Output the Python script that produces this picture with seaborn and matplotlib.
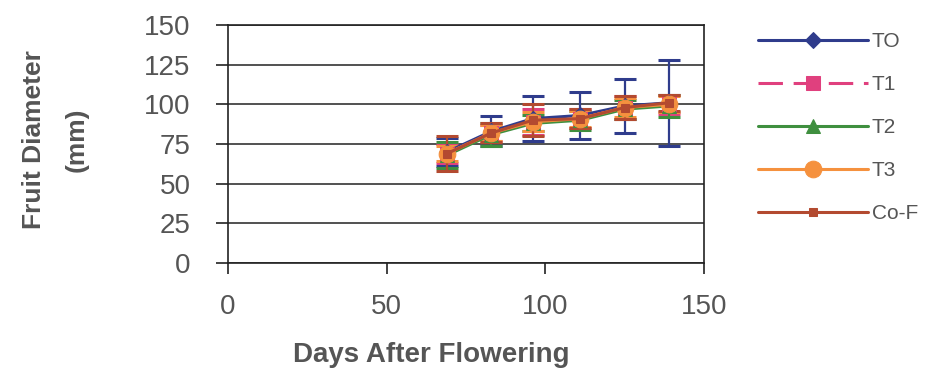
import matplotlib
matplotlib.use("Agg")
import matplotlib.pyplot as plt
import seaborn as sns
import numpy as np

# Fruit diameter (mm) by days after flowering, per treatment
days = [69, 83, 96, 111, 125, 139]

series_names = ["TO", "T1", "T2", "T3", "Co-F"]
t0_mean = [70, 83, 91, 93, 99, 101]
t0_err = [9, 9.5, 14, 15, 17, 27]
t1_mean = [69, 82, 89, 91, 98, 100]
t1_err = [6, 5, 8, 6, 7, 6]
t2_mean = [68, 81, 88, 90, 97, 99]
t2_err = [8, 7, 5, 6, 6, 7]
t3_mean = [69, 82, 89, 91, 98, 100]
t3_err = [5, 5, 6, 5, 6, 5]
cof_mean = [69, 82, 90, 91, 98, 101]
cof_err = [11, 6, 10, 6, 7, 5]

x_ticks = [0, 50, 100, 150]
y_ticks = [0, 25, 50, 75, 100, 125, 150]

means = [t0_mean, t1_mean, t2_mean, t3_mean, cof_mean]
errs = [t0_err, t1_err, t2_err, t3_err, cof_err]
colors = ["#2f3c8c", "#e0407e", "#3f8f3f", "#f5913e", "#b34a30"]
markers = ["D", "s", "^", "o", "s"]
msizes = [8, 10, 10, 12, 6]
styles = ["-", (0, (8, 3.5)), "-", "-", "-"]

sns.set_theme(style="white")
plt.rcParams["font.family"] = ["Liberation Sans", "DejaVu Sans"]

text_color = "#555555"

fig = plt.figure(figsize=(9.4, 3.71), dpi=100)
ax = fig.add_axes([0.2426, 0.291, 0.5064, 0.6416])

for name, m, e, c, mk, ms, ls in zip(series_names, means, errs, colors,
                                      markers, msizes, styles):
    ax.errorbar(days, m, yerr=e, fmt="none", ecolor=c, elinewidth=1.6,
                capsize=8, capthick=2.2, zorder=2)
    sns.lineplot(x=days, y=m, ax=ax, color=c, marker=mk, markersize=ms,
                 markeredgecolor=c, linewidth=2.2, linestyle=ls,
                 label=name, zorder=3)

ax.set_xlim(0, 150)
ax.set_ylim(0, 150)
ax.set_xticks(x_ticks)
ax.set_yticks(y_ticks)
ax.set_xticklabels([str(v) for v in x_ticks])
ax.set_yticklabels([str(v) for v in y_ticks])

ax.yaxis.grid(True, color="#333333", linewidth=1.2)
ax.xaxis.grid(False)
ax.set_axisbelow(True)
for side in ["left", "right", "bottom", "top"]:
    ax.spines[side].set_visible(True)
    ax.spines[side].set_color("#222222")
    ax.spines[side].set_linewidth(1.2)

ax.tick_params(axis="y", direction="out", length=9, width=1.2,
               color="#222222", left=True, pad=18, labelsize=20,
               labelcolor=text_color)
ax.tick_params(axis="x", direction="out", length=8, width=1.2,
               color="#222222", bottom=True, pad=14, labelsize=20,
               labelcolor=text_color)

ax.set_xlabel("Days After Flowering", fontsize=20, fontweight="bold",
              color=text_color)
ax.xaxis.set_label_coords(0.426, -0.385)
ax.xaxis.label.set_va("center")

ax.set_ylabel("Fruit Diameter\n(mm)", fontsize=19, fontweight="bold",
              color=text_color, linespacing=2.0)
ax.yaxis.set_label_coords(-0.363, 0.517)
ax.yaxis.label.set_va("center")

handles, labels = ax.get_legend_handles_labels()
leg = ax.legend(handles, labels, loc="upper left",
                bbox_to_anchor=(758 / 940, 1 - 32 / 371),
                bbox_transform=fig.transFigure, frameon=False,
                fontsize=15, handlelength=5.3, handletextpad=0.15,
                labelspacing=1.15, borderpad=0, borderaxespad=0)
for t in leg.get_texts():
    t.set_color(text_color)

fig.savefig("out.png", dpi=100, facecolor="white")
